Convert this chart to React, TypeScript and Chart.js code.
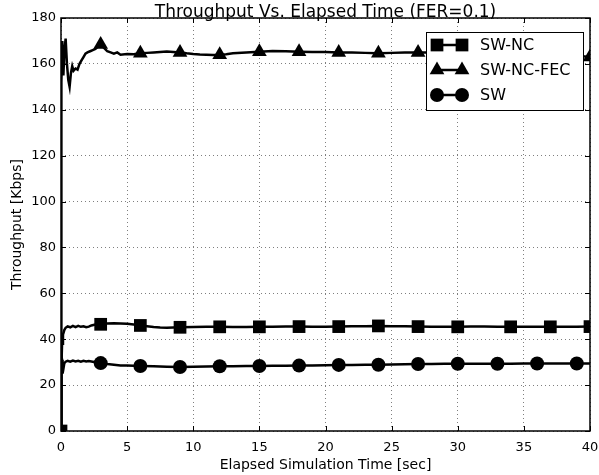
import React, { useEffect, useRef } from "react";
import { Chart, registerables } from "chart.js";

Chart.register(...registerables);

const xTicks = [0, 5, 10, 15, 20, 25, 30, 35, 40];
const yTicks = [0, 20, 40, 60, 80, 100, 120, 140, 160, 180];

const swncTimes = [0, 0.03, 0.08, 0.15, 0.25, 0.35, 0.5, 0.7, 0.9, 1.1, 1.3, 1.5, 1.7, 1.9, 2.1, 2.3, 2.6, 3.0, 3.5, 4.0, 4.5, 5.0, 5.5, 6.0, 6.5, 7.0, 7.5, 8.0, 9.0, 10, 11, 12, 13, 14, 15, 16, 17, 18, 19, 20, 21, 22, 23, 24, 25, 26, 27, 28, 29, 30, 31, 32, 33, 34, 35, 36, 37, 38, 39, 40];
const swncValues = [0, 28, 38, 42, 44, 45, 45.6, 45.2, 45.8, 45.3, 45.8, 45.4, 45.6, 45.2, 45.5, 46, 46.4, 46.5, 46.8, 47.0, 46.9, 46.7, 46.4, 46.0, 45.7, 45.3, 45.1, 45.0, 45.2, 45.3, 45.4, 45.4, 45.3, 45.3, 45.4, 45.4, 45.5, 45.5, 45.4, 45.4, 45.5, 45.6, 45.7, 45.8, 45.7, 45.6, 45.5, 45.4, 45.4, 45.4, 45.5, 45.5, 45.4, 45.4, 45.4, 45.4, 45.4, 45.4, 45.4, 45.5];
const swncMarkers = [0, 3, 6, 9, 12, 15, 18, 21, 24, 27, 30, 34, 37, 40];

const fecTimes = [0, 0.03, 0.1, 0.18, 0.25, 0.35, 0.45, 0.55, 0.65, 0.75, 0.85, 0.95, 1.1, 1.25, 1.4, 1.55, 1.7, 1.85, 2.0, 2.2, 2.4, 2.6, 2.8, 3.0, 3.25, 3.5, 3.75, 4.0, 4.25, 4.5, 5.0, 5.5, 6.0, 6.5, 7.0, 7.5, 8.0, 8.5, 9.0, 9.5, 10, 10.5, 11, 11.5, 12, 12.5, 13, 14, 15, 16, 17, 18, 19, 20, 21, 22, 23, 24, 25, 26, 27, 28, 29, 30, 31, 32, 33, 34, 35, 36, 37, 38, 39, 40];
const fecValues = [0, 152, 170, 155, 165, 171, 160, 153, 150, 156, 159, 157, 158, 157.5, 160, 161.5, 163, 164.5, 165, 165.5, 166, 166.5, 167.5, 168.5, 167, 165.5, 165, 164.5, 165, 164, 164.3, 164.2, 164.6, 164.8, 165, 165.2, 165.4, 165.2, 165, 164.6, 164.3, 164.1, 164, 163.9, 164, 164.2, 164.6, 165, 165.3, 165.6, 165.5, 165.3, 165.2, 165.2, 165, 165, 164.8, 164.6, 164.8, 165, 165, 165, 164.9, 164.8, 164.8, 164.7, 164.7, 164.6, 164.5, 164.4, 164.3, 164, 163.6, 163];
const fecMarkers = [3, 6, 9, 12, 15, 18, 21, 24, 27, 30, 33, 36, 40];

const swTimes = [0, 0.03, 0.08, 0.12, 0.18, 0.25, 0.35, 0.5, 0.7, 0.9, 1.1, 1.3, 1.5, 1.7, 1.9, 2.1, 2.4, 2.7, 3.0, 3.5, 4.0, 4.5, 5.0, 6.0, 7.0, 8.0, 9.0, 10, 11, 12, 13, 14, 15, 16, 17, 18, 19, 20, 21, 22, 23, 24, 25, 26, 27, 28, 29, 30, 31, 32, 33, 34, 35, 36, 37, 38, 39, 40];
const swValues = [0, 33, 31, 25, 27, 29.5, 30.2, 30.6, 30.2, 30.7, 30.3, 30.6, 30.2, 30.6, 30.3, 30.5, 30.2, 29.9, 29.6, 29.2, 28.9, 28.6, 28.5, 28.3, 28.2, 28.0, 27.9, 28.0, 28.1, 28.2, 28.2, 28.3, 28.3, 28.4, 28.4, 28.5, 28.6, 28.7, 28.8, 28.8, 28.9, 28.9, 29.0, 29.1, 29.2, 29.2, 29.3, 29.3, 29.3, 29.3, 29.3, 29.3, 29.4, 29.4, 29.4, 29.4, 29.4, 29.4];
const swMarkers = [3, 6, 9, 12, 15, 18, 21, 24, 27, 30, 33, 36, 39];

const seriesNames = ["SW-NC", "SW-NC-FEC", "SW"];

const FONT = "'DejaVu Sans', sans-serif";
const RECT_R = 9;
const TRI_R = 8.5;
const CIRC_R = 7;

function drawMarker(ctx: CanvasRenderingContext2D, style: string, x: number, y: number) {
  ctx.beginPath();
  if (style === "rect") {
    const s = Math.SQRT1_2 * RECT_R;
    ctx.rect(x - s, y - s, 2 * s, 2 * s);
  } else if (style === "triangle") {
    let rad = 0;
    ctx.moveTo(x + Math.sin(rad) * TRI_R, y - Math.cos(rad) * TRI_R);
    rad += (2 * Math.PI) / 3;
    ctx.lineTo(x + Math.sin(rad) * TRI_R, y - Math.cos(rad) * TRI_R);
    rad += (2 * Math.PI) / 3;
    ctx.lineTo(x + Math.sin(rad) * TRI_R, y - Math.cos(rad) * TRI_R);
    ctx.closePath();
  } else {
    ctx.arc(x, y, CIRC_R, 0, Math.PI * 2);
  }
  ctx.fill();
}

const decorPlugin = {
  id: "decor",
  afterDraw(chart: any) {
    const ctx: CanvasRenderingContext2D = chart.ctx;
    const { left, right, top, bottom } = chart.chartArea;
    const xs = chart.scales.x;
    const ys = chart.scales.y;
    ctx.save();
    // inward ticks
    ctx.strokeStyle = "#000";
    ctx.lineWidth = 1;
    ctx.beginPath();
    for (const t of xTicks) {
      const px = Math.round(xs.getPixelForValue(t)) + 0.5;
      ctx.moveTo(px, bottom);
      ctx.lineTo(px, bottom - 5);
      ctx.moveTo(px, top);
      ctx.lineTo(px, top + 5);
    }
    for (const t of yTicks) {
      const py = Math.round(ys.getPixelForValue(t)) + 0.5;
      ctx.moveTo(left, py);
      ctx.lineTo(left + 5, py);
      ctx.moveTo(right, py);
      ctx.lineTo(right - 5, py);
    }
    ctx.stroke();
    // frame
    ctx.lineWidth = 1.5;
    ctx.strokeStyle = "#000";
    ctx.strokeRect(left, top, right - left, bottom - top);

    // titles
    ctx.fillStyle = "#000";
    ctx.font = `17px ${FONT}`;
    ctx.textAlign = "center";
    ctx.textBaseline = "alphabetic";
    ctx.fillText("Throughput Vs. Elapsed Time (FER=0.1)", (left + right) / 2, 17);
    ctx.font = `14px ${FONT}`;
    ctx.textBaseline = "middle";
    ctx.fillText("Elapsed Simulation Time [sec]", (left + right) / 2, 465);
    ctx.save();
    ctx.translate(17, (top + bottom) / 2);
    ctx.rotate(-Math.PI / 2);
    ctx.fillText("Throughput [Kbps]", 0, 0);
    ctx.restore();

    // legend
    const bx = 426, by = 32, bw = 157, bh = 78;
    ctx.fillStyle = "#fff";
    ctx.fillRect(bx, by, bw, bh);
    ctx.strokeStyle = "#000";
    ctx.lineWidth = 1;
    ctx.strokeRect(bx + 0.5, by + 0.5, bw, bh);
    const styles = ["rect", "triangle", "circle"];
    const rowsY = [45, 70, 95];
    ctx.font = `16px ${FONT}`;
    ctx.textAlign = "left";
    ctx.textBaseline = "middle";
    for (let i = 0; i < 3; i++) {
      const y = rowsY[i];
      ctx.strokeStyle = "#000";
      ctx.lineWidth = 2.5;
      ctx.beginPath();
      ctx.moveTo(437, y);
      ctx.lineTo(462, y);
      ctx.stroke();
      ctx.fillStyle = "#000";
      drawMarker(ctx, styles[i], 437, y);
      drawMarker(ctx, styles[i], 462, y);
      ctx.fillText(seriesNames[i], 480, y + 1);
    }
    ctx.restore();
  },
};

function makeData(times: number[], values: number[]) {
  return times.map((t, i) => ({ x: t, y: values[i] }));
}

function radiusFor(markers: number[], r: number) {
  return (c: any) => {
    const raw = c.raw;
    if (!raw) return 0;
    return markers.some((m) => Math.abs(m - raw.x) < 1e-6) ? r : 0;
  };
}

export default function App() {
  const ref = useRef<HTMLCanvasElement>(null);
  useEffect(() => {
    if (!ref.current) return;
    const common = {
      borderColor: "#000",
      borderWidth: 2.5,
      backgroundColor: "#000",
      pointBackgroundColor: "#000",
      pointBorderColor: "#000",
      pointBorderWidth: 0,
      tension: 0,
      fill: false,
      clip: 0,
    };
    const chart = new Chart(ref.current, {
      type: "line",
      data: {
        datasets: [
          {
            ...common,
            label: seriesNames[0],
            data: makeData(swncTimes, swncValues),
            pointStyle: "rect",
            pointRadius: radiusFor(swncMarkers, RECT_R),
          },
          {
            ...common,
            label: seriesNames[1],
            data: makeData(fecTimes, fecValues),
            pointStyle: "triangle",
            pointRadius: radiusFor(fecMarkers, TRI_R),
          },
          {
            ...common,
            label: seriesNames[2],
            data: makeData(swTimes, swValues),
            pointStyle: "circle",
            pointRadius: radiusFor(swMarkers, CIRC_R),
          },
        ] as any,
      },
      options: {
        animation: false,
        responsive: false,
        events: [],
        layout: { padding: { left: 0, top: 18, right: 7, bottom: 0 } },
        plugins: { legend: { display: false }, title: { display: false }, tooltip: { enabled: false } },
        scales: {
          x: {
            type: "linear",
            min: 0,
            max: 40,
            afterBuildTicks: (s: any) => {
              s.ticks = xTicks.map((v) => ({ value: v }));
            },
            afterFit: (s: any) => {
              s.height = 44;
              s.paddingLeft = 0;
              s.paddingRight = 0;
            },
            ticks: {
              font: { family: FONT, size: 13 },
              color: "#000",
              padding: 9,
              maxRotation: 0,
              autoSkip: false,
            },
            grid: { color: "rgba(0,0,0,0.5)", lineWidth: 1, drawTicks: false },
            border: { display: false, dash: [1, 3] },
          },
          y: {
            type: "linear",
            min: 0,
            max: 180,
            afterBuildTicks: (s: any) => {
              s.ticks = yTicks.map((v) => ({ value: v }));
            },
            afterFit: (s: any) => {
              s.width = 61;
              s.paddingTop = 0;
              s.paddingBottom = 0;
            },
            ticks: {
              font: { family: FONT, size: 13 },
              color: "#000",
              padding: 5,
              autoSkip: false,
            },
            grid: { color: "rgba(0,0,0,0.5)", lineWidth: 1, drawTicks: false },
            border: { display: false, dash: [1, 3] },
          },
        },
      },
      plugins: [decorPlugin],
    });
    return () => chart.destroy();
  }, []);
  return (
    <div style={{ position: "absolute", left: 0, top: 0, width: 599, height: 475, background: "#fff" }}>
      <canvas ref={ref} width={599} height={475} style={{ display: "block" }} />
    </div>
  );
}
